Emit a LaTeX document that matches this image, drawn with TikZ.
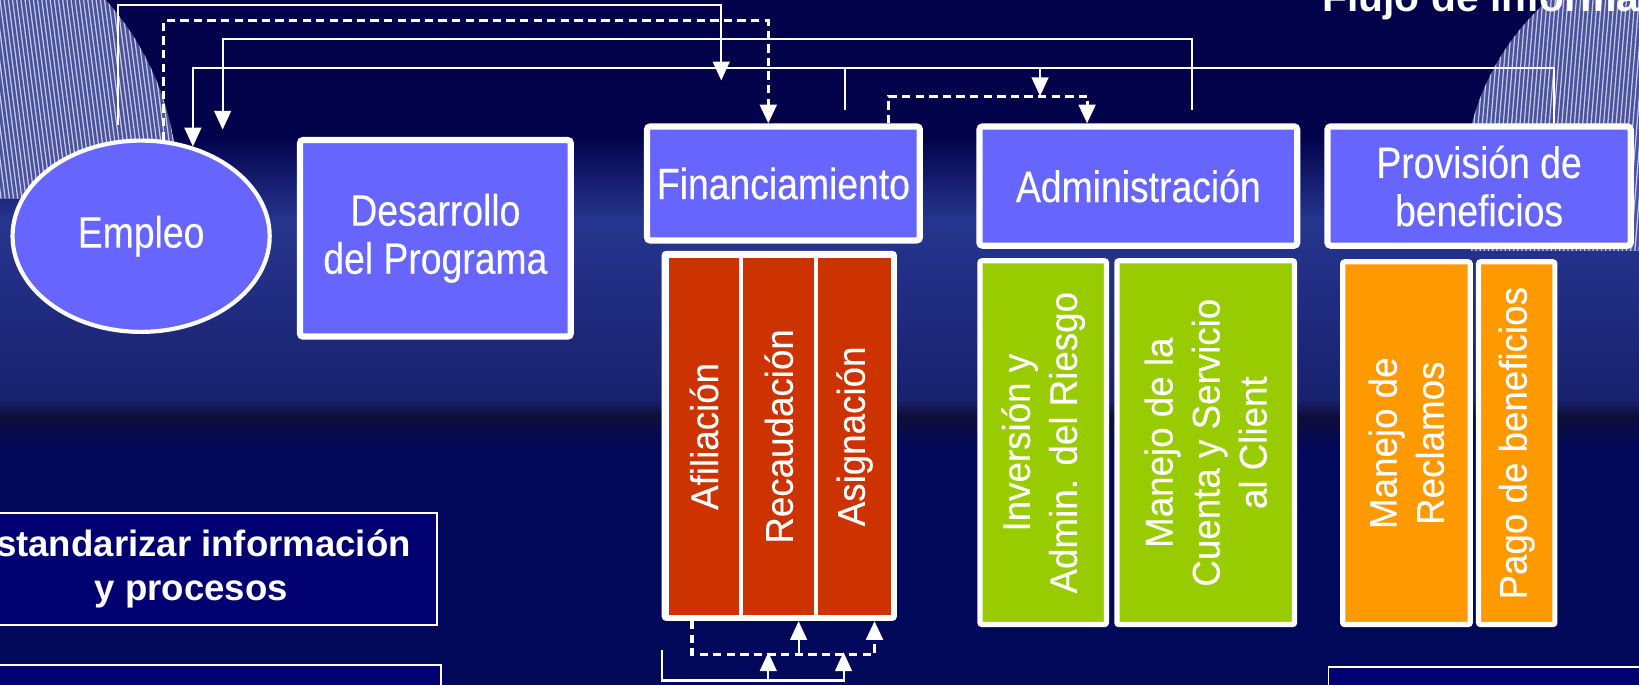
\documentclass[tikz,border=0pt]{standalone}
\usepackage{fontspec}
\setmainfont{Liberation Sans}
\newfontfamily\narrowfont[FakeStretch=0.85,FakeBold=0.3]{Liberation Sans}
\newfontfamily\colfont[FakeStretch=0.95,FakeBold=0.2]{Liberation Sans}
\usetikzlibrary{arrows.meta,shapes.geometric}
\definecolor{bgtop}{HTML}{02024A}
\definecolor{bgmid}{HTML}{26358E}
\definecolor{bgband}{HTML}{18216E}
\definecolor{bgdark}{HTML}{0E0E38}
\definecolor{bglow}{HTML}{02085A}
\definecolor{boxblue}{HTML}{6666FF}
\definecolor{redcol}{HTML}{CC3300}
\definecolor{greencol}{HTML}{99CC00}
\definecolor{orangecol}{HTML}{FF9900}
\definecolor{darkbox}{HTML}{000070}
\definecolor{stripebase}{HTML}{4A5298}
\definecolor{stripeline}{HTML}{C4C8EE}
\begin{document}
\begin{tikzpicture}[x=1pt,y=-1pt,
  topbox/.style={draw=white,line width=6pt,fill=boxblue,rounded corners=3pt,inner sep=0pt,text=white,align=center,font=\narrowfont\fontsize{42}{46}\selectfont},
  colbox/.style={draw=white,line width=5pt,rounded corners=2pt,inner sep=0pt,text=white,align=center,rotate=90,font=\colfont\fontsize{37}{45}\selectfont},
  redbox/.style={fill=redcol,inner sep=0pt,text=white,align=center,rotate=90,font=\colfont\fontsize{37}{45}\selectfont},
  whiteframe/.style={fill=white,rounded corners=4pt,inner sep=0pt},
  navybox/.style={draw=white,line width=1.6pt,fill=darkbox,inner sep=0pt,text=white,align=center,font=\bfseries\fontsize{35}{42}\selectfont},
  wline/.style={draw=white,line width=2pt},
  dline/.style={draw=white,line width=3pt,dash pattern=on 8pt off 5pt},
  headarrow/.style={-{Triangle[width=16pt,length=18pt]}}]
\useasboundingbox (0,0) rectangle (1568,655.3);
\clip (0,0) rectangle (1568,655.3);
% background
\fill[bgtop] (0,0) rectangle (1568,656);
\shade[top color=bgtop,bottom color=bgmid] (0,130) rectangle (1568,210);
\shade[top color=bgmid,bottom color=bgband] (0,210) rectangle (1568,382);
\shade[top color=bgband,bottom color=bgdark] (0,382) rectangle (1568,398);
\shade[top color=bgdark,bottom color=bglow] (0,398) rectangle (1568,428);
\fill[bglow] (0,428) rectangle (1568,656);
% striped arcs
\begin{scope}
  \clip (0,0) rectangle (400,190);
  \clip (-100,180) circle[radius=270];
  \fill[stripebase] (0,0) rectangle (400,190);
  \foreach \i in {-40,-36,...,220} {\draw[stripeline,line width=1.2pt] (\i,0) -- (\i+25,190);}
\end{scope}
\begin{scope}
  \clip (1300,0) rectangle (1568,240);
  \clip (1640,180) circle[radius=240];
  \fill[stripebase] (1300,0) rectangle (1568,240);
  \foreach \i in {1380,1384,...,1620} {\draw[stripeline,line width=1.2pt] (\i,0) -- (\i-20,240);}
\end{scope}
% title
\node[anchor=base west,inner sep=0pt,text=white,font=\bfseries\fontsize{39}{40}\selectfont] (title) at (1265,11) {Flujo de informa};
% top row
\node[ellipse,draw=white,line width=4pt,fill=boxblue,minimum width=246pt,minimum height=183pt,inner sep=0pt,text=white,font=\narrowfont\fontsize{42}{46}\selectfont] (emp) at (135,226) {Empleo};
\node[topbox,minimum width=259pt,minimum height=188pt] (des) at (416.5,228) {Desarrollo\\del Programa};
\node[topbox,minimum width=261pt,minimum height=109pt] (fin) at (749.5,175.5) {Financiamiento};
\node[topbox,minimum width=304pt,minimum height=114pt] (adm) at (1089,178) {Administración};
\node[topbox,minimum width=290pt,minimum height=114pt] (prov) at (1415,178) {Provisión de\\beneficios};
% financing columns
\node[whiteframe,minimum width=225pt,minimum height=354pt] (finf) at (745.5,417) {};
\node[redbox,minimum width=341pt,minimum height=67pt] (afi) at (673.5,417.5) {Afiliación};
\node[redbox,minimum width=341pt,minimum height=68pt] (rec) at (745,417.5) {Recaudación};
\node[redbox,minimum width=341pt,minimum height=69pt] (asi) at (817.5,417.5) {Asignación};
% administration columns
\node[colbox,fill=greencol,minimum width=348pt,minimum height=121pt] (inv) at (998,423.5) {Inversión y\\Admin. del Riesgo};
\node[colbox,fill=greencol,minimum width=348pt,minimum height=170pt] (cta) at (1153.5,423.5) {Manejo de la\\Cuenta y Servicio\\al Client};
% benefit columns
\node[colbox,fill=orangecol,minimum width=347pt,minimum height=122pt] (rcl) at (1345.5,424) {Manejo de\\Reclamos};
\node[colbox,fill=orangecol,minimum width=347pt,minimum height=73pt] (pag) at (1451,424) {Pago de beneficios};
% left boxes
\node[navybox,minimum width=470pt,minimum height=107pt] (est) at (183,544.5) {Estandarizar información\\y procesos};
\node[navybox,anchor=north west,minimum width=473pt,minimum height=80pt] (bl) at (-52,635.5) {};
\node[navybox,anchor=north west,minimum width=400pt,minimum height=80pt] (br) at (1270,637) {};
% levels and x positions
\coordinate (L1) at (0,5);
\coordinate (L2) at (0,20);
\coordinate (L3) at (0,37);
\coordinate (L4) at (0,65);
\coordinate (L5) at (0,92);
\coordinate (L6) at (0,626);
\coordinate (L7) at (0,651);
\coordinate (aS) at (113,120);
\coordinate (aE) at (690,77);
\coordinate (xB) at (735,0);
\coordinate (cS) at (1140,105);
\coordinate (cE) at (213,124);
\coordinate (xD) at (1487,0);
\coordinate (eS) at (808,105);
\coordinate (xF) at (995,0);
\coordinate (xG1) at (850,0);
\coordinate (xG2) at (1040,0);
\coordinate (xH1) at (662,0);
\coordinate (xH2) at (764,0);
\coordinate (xH3) at (836.6,0);
\coordinate (iS) at (633,622);
\coordinate (xI1) at (735,0);
\coordinate (iE) at (807,624);
\coordinate (iE1) at (735,624);
% top connectors
\draw[wline,headarrow] (aS) -- (aS |- L1) -| (aE);
\draw[dline,headarrow] (emp.77) -- (emp.77 |- L2) -| (xB |- fin.north);
\draw[wline,headarrow] (cS) -- (cS |- L3) -| (cE);
\draw[wline,headarrow] (xD |- prov.north) -- (xD |- L4) -| (emp.60);
\draw[wline] (eS) -- (eS |- L4);
\draw[wline,headarrow] (xF |- L4) -- (xF |- L5);
\draw[dline,headarrow] (xG1 |- fin.north) -- (xG1 |- L5) -| (xG2 |- adm.north);
% bottom connectors
\draw[dline,headarrow] (xH1 |- finf.south) -- (xH1 |- L6) -| (xH3 |- finf.south);
\draw[wline,headarrow] (xH2 |- L6) -- (xH2 |- finf.south);
\draw[wline,headarrow] (iS) -- (iS |- L7) -| (iE);
\draw[wline,headarrow] (xI1 |- L7) -- (iE1);
\end{tikzpicture}
\end{document}
